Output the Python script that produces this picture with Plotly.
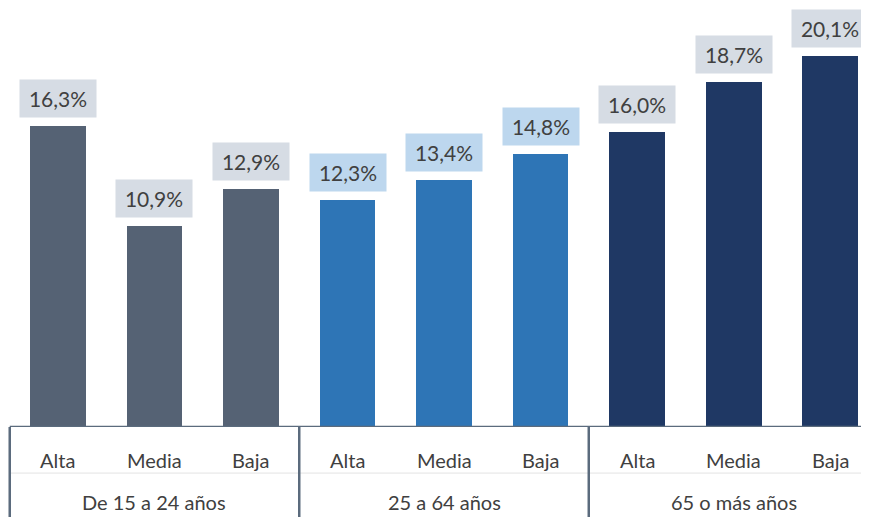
import plotly.graph_objects as go

groups = ["De 15 a 24 años", "25 a 64 años", "65 o más años"]
levels = ["Alta", "Media", "Baja"]
values = [16.3, 10.9, 12.9, 12.3, 13.4, 14.8, 16.0, 18.7, 20.1]
bar_colors = ["#556274", "#2E75B6", "#1F3864"]
box_colors = ["#D6DCE4", "#BDD7EE", "#D6DCE4"]

FONT = "Lato"
TEXT = "#404040"
LINE = "#5B6B7D"

n = len(levels)
xs = list(range(len(values)))
colors = [bar_colors[i // n] for i in xs]

fig = go.Figure(
    go.Bar(x=xs, y=values, width=0.58, marker={"color": colors, "line": {"width": 0}}, hoverinfo="skip")
)

for i, v in enumerate(values):
    fig.add_annotation(
        x=i,
        y=v,
        text=f"{v:.1f}%".replace(".", ","),
        showarrow=False,
        yanchor="bottom",
        yshift=8,
        width=72,
        height=33,
        borderpad=2,
        bgcolor=box_colors[i // n],
        font={"family": FONT, "size": 21, "color": TEXT},
    )

for i in xs:
    fig.add_annotation(
        x=i, y=-0.079, yref="paper", text=levels[i % n], showarrow=False, yanchor="middle",
        font={"family": FONT, "size": 20, "color": TEXT},
    )

for g, name in enumerate(groups):
    fig.add_annotation(
        x=g * n + 1, y=-0.180, yref="paper", text=name, showarrow=False, yanchor="middle",
        font={"family": FONT, "size": 20, "color": TEXT},
    )

# faint row divider
fig.add_shape(type="line", x0=-0.5, x1=9, y0=-0.110, y1=-0.110, yref="paper",
              line={"color": "#E3E3E3", "width": 1})
# axis baseline
fig.add_shape(type="line", x0=-0.5, x1=9, y0=0, y1=0, line={"color": LINE, "width": 2.5})
# group separators
for g in range(len(groups)):
    fig.add_shape(type="line", x0=g * n - 0.5, x1=g * n - 0.5, y0=0, y1=-0.22, yref="paper",
                  line={"color": LINE, "width": 2.5})

# the page adds an 8px body margin, so the figure is 8px smaller on each side
fig.update_layout(
    width=861,
    height=509,
    margin={"l": 0, "r": 0, "t": 0, "b": 90},
    plot_bgcolor="white",
    paper_bgcolor="white",
    showlegend=False,
    bargap=0,
)
fig.update_xaxes(range=[-0.518, 8.404], showticklabels=False, showgrid=False, zeroline=False, showline=False)
fig.update_yaxes(range=[0, 22.69], showticklabels=False, showgrid=False, zeroline=False, showline=False)

fig.write_html("out.html")
